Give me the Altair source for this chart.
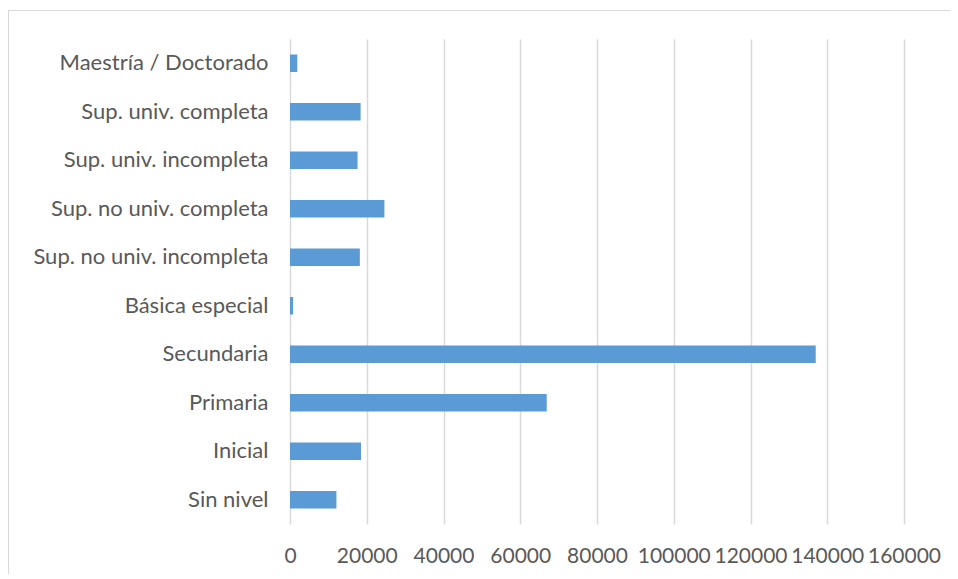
import altair as alt
import pandas as pd

categories = [
    "Maestría / Doctorado",
    "Sup. univ. completa",
    "Sup. univ. incompleta",
    "Sup. no univ. completa",
    "Sup. no univ. incompleta",
    "Básica especial",
    "Secundaria",
    "Primaria",
    "Inicial",
    "Sin nivel",
]
values = [1900, 18400, 17600, 24600, 18200, 800, 137000, 66900, 18500, 12100]
x_ticks = [0, 20000, 40000, 60000, 80000, 100000, 120000, 140000, 160000]

df = pd.DataFrame({"nivel": categories, "valor": values})

FONT = "Lato"

bars = alt.Chart(df).mark_bar(color="#5b9bd5").encode(
    x=alt.X(
        "valor:Q",
        scale=alt.Scale(domain=[0, 160000], nice=False),
        axis=alt.Axis(
            values=x_ticks,
            format="d",
            title=None,
            domain=False,
            ticks=False,
            grid=True,
            gridColor="#d9d9d9",
            gridWidth=1.5,
            labelFontSize=21,
            labelColor="#595959",
            labelFont=FONT,
            labelPadding=21,
            labelOverlap=False,
            labelFlush=False,
            labelBound=False,
        ),
    ),
    y=alt.Y(
        "nivel:N",
        sort=categories,
        scale=alt.Scale(paddingInner=0.64, paddingOuter=0.32),
        axis=alt.Axis(
            title=None,
            domain=False,
            ticks=False,
            grid=False,
            labelFontSize=22,
            labelColor="#595959",
            labelFont=FONT,
            labelPadding=22,
            labelLimit=400,
        ),
    ),
)

frame = alt.Chart(df).mark_rect(
    fill=None, stroke="#d9d9d9", strokeWidth=1, clip=False
).encode(
    x=alt.value(-281.5),
    x2=alt.value(700),
    y=alt.value(-28.5),
    y2=alt.value(600),
)

chart = alt.layer(frame, bars).properties(
    width=614,
    height=485,
    autosize=alt.AutoSizeParams(type="none"),
    padding={"left": 282, "top": 31, "right": 46, "bottom": 50},
).configure_view(stroke=None)

chart.save("out.html", embed_options={"renderer": "svg", "actions": False})
